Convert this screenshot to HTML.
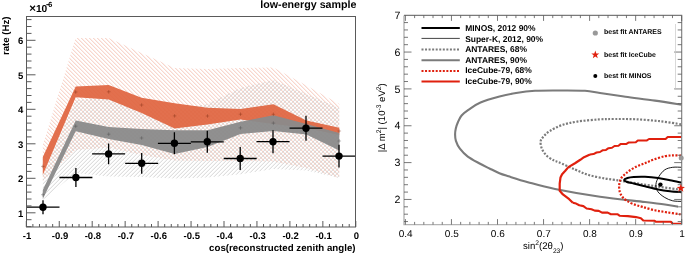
<!DOCTYPE html>
<html><head><meta charset="utf-8"><style>
html,body{margin:0;padding:0;background:#fff;width:685px;height:253px;overflow:hidden}
svg{display:block} text{text-rendering:geometricPrecision}
</style></head><body><div style="will-change:transform;width:685px;height:253px">
<svg width="685" height="253" viewBox="0 0 685 253">
<defs>
<pattern id="hr" patternUnits="userSpaceOnUse" x="3.3" y="0" width="4" height="4">
<path d="M-1,-1 L5,5 M-1,3 L1,5 M3,-1 L5,1" stroke="#eea28e" stroke-width="0.62"/>
</pattern>
<pattern id="hg" patternUnits="userSpaceOnUse" x="2.75" y="0" width="4" height="4">
<path d="M-1,5 L5,-1 M-1,1 L1,-1 M3,5 L5,3" stroke="#bcbcbc" stroke-width="0.65"/>
</pattern>
<clipPath id="cl"><rect x="26.5" y="16.5" width="329" height="210.5"/></clipPath>
<clipPath id="cr"><rect x="404" y="15.4" width="277.7" height="209.2"/></clipPath>
</defs>
<rect width="685" height="253" fill="#fff"/>
<g clip-path="url(#cl)"><path d="M42.8,145.0 L75.7,38.0 L108.7,38.0 L141.6,53.0 L174.6,68.0 L207.5,69.0 L240.5,68.0 L273.4,67.5 L306.4,85.5 L339.3,104.0 L339.3,178.0 L306.4,168.0 L273.4,161.5 L240.5,161.0 L207.5,161.0 L174.6,160.5 L141.6,155.0 L108.7,147.5 L75.7,150.0 L42.8,181.0 Z" fill="url(#hr)"/><path d="M42.8,175.0 L75.7,100.0 L108.7,98.0 L141.6,110.0 L174.6,110.0 L207.5,104.0 L240.5,88.0 L273.4,80.0 L306.4,94.0 L339.3,108.0 L339.3,178.0 L306.4,170.5 L273.4,169.0 L240.5,174.3 L207.5,177.5 L174.6,178.5 L141.6,177.0 L108.7,176.5 L75.7,173.0 L42.8,200.0 Z" fill="url(#hg)"/><path d="M42.8,157.0 L75.7,86.5 L108.7,85.0 L141.6,97.8 L174.6,103.2 L207.5,107.8 L240.5,108.9 L273.4,104.2 L306.4,120.5 L339.3,127.7 L339.3,135.0 L306.4,128.0 L273.4,124.0 L240.5,119.5 L207.5,124.4 L174.6,128.5 L141.6,113.0 L108.7,99.5 L75.7,97.3 L42.8,175.0 Z" fill="#e0643f" fill-opacity="0.92"/><path d="M42.8,190.0 L75.7,120.6 L108.7,127.0 L141.6,128.9 L174.6,130.3 L207.5,130.3 L240.5,121.7 L273.4,115.3 L306.4,124.0 L339.3,132.9 L339.3,150.5 L306.4,134.5 L273.4,131.0 L240.5,134.0 L207.5,147.0 L174.6,154.0 L141.6,145.0 L108.7,139.0 L75.7,131.3 L42.8,199.0 Z" fill="#8a8a8a" fill-opacity="0.95"/><path d="M41.0,166.4 H44.6 M42.8,164.6 V168.20000000000002" stroke="#7a2a10" stroke-width="0.5" fill="none" opacity="0.7"/><path d="M41.0,194.7 H44.6 M42.8,192.89999999999998 V196.5" stroke="#444" stroke-width="0.5" fill="none" opacity="0.7"/><path d="M73.9,92 H77.5 M75.7,90.2 V93.8" stroke="#7a2a10" stroke-width="0.5" fill="none" opacity="0.7"/><path d="M73.9,126.2 H77.5 M75.7,124.4 V128.0" stroke="#444" stroke-width="0.5" fill="none" opacity="0.7"/><path d="M106.9,91.8 H110.5 M108.7,90.0 V93.6" stroke="#7a2a10" stroke-width="0.5" fill="none" opacity="0.7"/><path d="M106.9,134.2 H110.5 M108.7,132.39999999999998 V136.0" stroke="#444" stroke-width="0.5" fill="none" opacity="0.7"/><path d="M139.8,105 H143.4 M141.6,103.2 V106.8" stroke="#7a2a10" stroke-width="0.5" fill="none" opacity="0.7"/><path d="M139.8,138 H143.4 M141.6,136.2 V139.8" stroke="#444" stroke-width="0.5" fill="none" opacity="0.7"/><path d="M172.8,115.9 H176.4 M174.6,114.10000000000001 V117.7" stroke="#7a2a10" stroke-width="0.5" fill="none" opacity="0.7"/><path d="M172.8,142 H176.4 M174.6,140.2 V143.8" stroke="#444" stroke-width="0.5" fill="none" opacity="0.7"/><path d="M205.7,116 H209.3 M207.5,114.2 V117.8" stroke="#7a2a10" stroke-width="0.5" fill="none" opacity="0.7"/><path d="M205.7,138 H209.3 M207.5,136.2 V139.8" stroke="#444" stroke-width="0.5" fill="none" opacity="0.7"/><path d="M238.7,114.2 H242.3 M240.5,112.4 V116.0" stroke="#7a2a10" stroke-width="0.5" fill="none" opacity="0.7"/><path d="M238.7,127.9 H242.3 M240.5,126.10000000000001 V129.70000000000002" stroke="#444" stroke-width="0.5" fill="none" opacity="0.7"/><path d="M271.6,114.3 H275.2 M273.4,112.5 V116.1" stroke="#7a2a10" stroke-width="0.5" fill="none" opacity="0.7"/><path d="M271.6,123.1 H275.2 M273.4,121.3 V124.89999999999999" stroke="#444" stroke-width="0.5" fill="none" opacity="0.7"/><path d="M304.6,124 H308.2 M306.4,122.2 V125.8" stroke="#7a2a10" stroke-width="0.5" fill="none" opacity="0.7"/><path d="M304.6,129 H308.2 M306.4,127.2 V130.8" stroke="#444" stroke-width="0.5" fill="none" opacity="0.7"/><path d="M337.5,131 H341.1 M339.3,129.2 V132.8" stroke="#7a2a10" stroke-width="0.5" fill="none" opacity="0.7"/><path d="M337.5,141 H341.1 M339.3,139.2 V142.8" stroke="#444" stroke-width="0.5" fill="none" opacity="0.7"/><path d="M26.5,207.2 H59.5 M43,200.2 V214.2" stroke="#000" stroke-width="1.3" fill="none"/><circle cx="43" cy="207.2" r="3.7" fill="#000"/><path d="M59.4,177.5 H92.4 M75.9,168.0 V187.0" stroke="#000" stroke-width="1.3" fill="none"/><circle cx="75.9" cy="177.5" r="3.7" fill="#000"/><path d="M92.1,153.9 H125.1 M108.6,143.6 V164.20000000000002" stroke="#000" stroke-width="1.3" fill="none"/><circle cx="108.6" cy="153.9" r="3.7" fill="#000"/><path d="M125.2,163.3 H158.2 M141.7,152.9 V173.70000000000002" stroke="#000" stroke-width="1.3" fill="none"/><circle cx="141.7" cy="163.3" r="3.7" fill="#000"/><path d="M157.9,143.3 H190.9 M174.4,132.3 V154.3" stroke="#000" stroke-width="1.3" fill="none"/><circle cx="174.4" cy="143.3" r="3.7" fill="#000"/><path d="M190.8,141.8 H223.8 M207.3,130.8 V152.8" stroke="#000" stroke-width="1.3" fill="none"/><circle cx="207.3" cy="141.8" r="3.7" fill="#000"/><path d="M223.7,158.5 H256.7 M240.2,147.0 V170.0" stroke="#000" stroke-width="1.3" fill="none"/><circle cx="240.2" cy="158.5" r="3.7" fill="#000"/><path d="M256.5,141.7 H289.5 M273,130.2 V153.2" stroke="#000" stroke-width="1.3" fill="none"/><circle cx="273" cy="141.7" r="3.7" fill="#000"/><path d="M289.5,128.2 H322.5 M306,115.69999999999999 V140.7" stroke="#000" stroke-width="1.3" fill="none"/><circle cx="306" cy="128.2" r="3.7" fill="#000"/><path d="M322.5,156.1 H355.5 M339,144.79999999999998 V167.4" stroke="#000" stroke-width="1.3" fill="none"/><circle cx="339" cy="156.1" r="3.7" fill="#000"/></g><rect x="26.5" y="16.5" width="329" height="210.5" fill="none" stroke="#5a5a5a" stroke-width="1"/><path d="M26.30,227 V221 M32.89,227 V224 M39.48,227 V224 M46.07,227 V224 M52.66,227 V224 M59.25,227 V221 M65.84,227 V224 M72.43,227 V224 M79.02,227 V224 M85.61,227 V224 M92.20,227 V221 M98.79,227 V224 M105.38,227 V224 M111.97,227 V224 M118.56,227 V224 M125.15,227 V221 M131.74,227 V224 M138.33,227 V224 M144.92,227 V224 M151.51,227 V224 M158.10,227 V221 M164.69,227 V224 M171.28,227 V224 M177.87,227 V224 M184.46,227 V224 M191.05,227 V221 M197.64,227 V224 M204.23,227 V224 M210.82,227 V224 M217.41,227 V224 M224.00,227 V221 M230.59,227 V224 M237.18,227 V224 M243.77,227 V224 M250.36,227 V224 M256.95,227 V221 M263.54,227 V224 M270.13,227 V224 M276.72,227 V224 M283.31,227 V224 M289.90,227 V221 M296.49,227 V224 M303.08,227 V224 M309.67,227 V224 M316.26,227 V224 M322.85,227 V221 M329.44,227 V224 M336.03,227 V224 M342.62,227 V224 M349.21,227 V224 M355.80,227 V221 M26.5,226.60 H31.5 M26.5,219.70 H31.5 M26.5,212.80 H35.5 M26.5,205.90 H31.5 M26.5,199.00 H31.5 M26.5,192.10 H31.5 M26.5,185.20 H31.5 M26.5,178.30 H35.5 M26.5,171.40 H31.5 M26.5,164.50 H31.5 M26.5,157.60 H31.5 M26.5,150.70 H31.5 M26.5,143.80 H35.5 M26.5,136.90 H31.5 M26.5,130.00 H31.5 M26.5,123.10 H31.5 M26.5,116.20 H31.5 M26.5,109.30 H35.5 M26.5,102.40 H31.5 M26.5,95.50 H31.5 M26.5,88.60 H31.5 M26.5,81.70 H31.5 M26.5,74.80 H35.5 M26.5,67.90 H31.5 M26.5,61.00 H31.5 M26.5,54.10 H31.5 M26.5,47.20 H31.5 M26.5,40.30 H35.5 M26.5,33.40 H31.5 M26.5,26.50 H31.5 M26.5,19.60 H31.5" stroke="#5a5a5a" stroke-width="1" fill="none"/><text x="23.3" y="216.8" font-family='"Liberation Sans", sans-serif' font-weight="bold" font-size="9.5" text-anchor="end">1</text><text x="23.3" y="182.3" font-family='"Liberation Sans", sans-serif' font-weight="bold" font-size="9.5" text-anchor="end">2</text><text x="23.3" y="147.8" font-family='"Liberation Sans", sans-serif' font-weight="bold" font-size="9.5" text-anchor="end">3</text><text x="23.3" y="113.3" font-family='"Liberation Sans", sans-serif' font-weight="bold" font-size="9.5" text-anchor="end">4</text><text x="23.3" y="78.8" font-family='"Liberation Sans", sans-serif' font-weight="bold" font-size="9.5" text-anchor="end">5</text><text x="23.3" y="44.3" font-family='"Liberation Sans", sans-serif' font-weight="bold" font-size="9.5" text-anchor="end">6</text><text x="27.0" y="238.8" font-family='"Liberation Sans", sans-serif' font-weight="bold" font-size="9.5" text-anchor="middle">-1</text><text x="60.0" y="238.8" font-family='"Liberation Sans", sans-serif' font-weight="bold" font-size="9.5" text-anchor="middle">-0.9</text><text x="92.9" y="238.8" font-family='"Liberation Sans", sans-serif' font-weight="bold" font-size="9.5" text-anchor="middle">-0.8</text><text x="125.9" y="238.8" font-family='"Liberation Sans", sans-serif' font-weight="bold" font-size="9.5" text-anchor="middle">-0.7</text><text x="158.8" y="238.8" font-family='"Liberation Sans", sans-serif' font-weight="bold" font-size="9.5" text-anchor="middle">-0.6</text><text x="191.8" y="238.8" font-family='"Liberation Sans", sans-serif' font-weight="bold" font-size="9.5" text-anchor="middle">-0.5</text><text x="224.7" y="238.8" font-family='"Liberation Sans", sans-serif' font-weight="bold" font-size="9.5" text-anchor="middle">-0.4</text><text x="257.7" y="238.8" font-family='"Liberation Sans", sans-serif' font-weight="bold" font-size="9.5" text-anchor="middle">-0.3</text><text x="290.6" y="238.8" font-family='"Liberation Sans", sans-serif' font-weight="bold" font-size="9.5" text-anchor="middle">-0.2</text><text x="323.6" y="238.8" font-family='"Liberation Sans", sans-serif' font-weight="bold" font-size="9.5" text-anchor="middle">-0.1</text><text x="356.5" y="238.8" font-family='"Liberation Sans", sans-serif' font-weight="bold" font-size="9.5" text-anchor="middle">0</text><text x="355.5" y="250.5" font-family='"Liberation Sans", sans-serif' font-weight="bold" font-size="9.7" text-anchor="end">cos(reconstructed zenith angle)</text><text x="356.5" y="7.9" font-family='"Liberation Sans", sans-serif' font-weight="bold" font-size="10.7" text-anchor="end">low-energy sample</text><text transform="translate(9.3,55) rotate(-90)" font-family='"Liberation Sans", sans-serif' font-weight="bold" font-size="9.6">rate (Hz)</text><text x="29.2" y="12" font-family='"Liberation Sans", sans-serif' font-weight="bold" font-size="10.2"><tspan font-size="11.5">×</tspan>10</text><rect x="46.3" y="4.1" width="2.7" height="1.1" fill="#111"/><text x="48.3" y="7.1" font-family='"Liberation Sans", sans-serif' font-weight="bold" font-size="7.4">6</text><g clip-path="url(#cr)" fill="none" stroke-linejoin="round"><path d="M682.00,104.80 C677.50,104.10 664.43,101.95 655.00,100.60 C645.57,99.25 634.57,97.97 625.40,96.70 C616.23,95.43 606.73,93.98 600.00,93.00 C593.27,92.02 591.67,91.22 585.00,90.80 C578.33,90.38 568.33,90.50 560.00,90.50 C551.67,90.50 542.32,90.38 535.00,90.80 C527.68,91.22 522.02,92.03 516.10,93.00 C510.18,93.97 505.43,95.02 499.50,96.60 C493.57,98.18 485.63,100.33 480.50,102.50 C475.37,104.67 471.85,107.43 468.70,109.60 C465.55,111.77 463.38,113.43 461.60,115.50 C459.82,117.57 458.97,119.83 458.00,122.00 C457.03,124.17 456.28,126.42 455.80,128.50 C455.32,130.58 455.08,132.45 455.10,134.50 C455.12,136.55 455.10,138.43 455.90,140.80 C456.70,143.17 457.92,146.07 459.90,148.70 C461.88,151.33 464.52,154.13 467.80,156.60 C471.08,159.07 475.98,161.52 479.60,163.50 C483.22,165.48 486.20,166.88 489.50,168.50 C492.80,170.12 496.23,171.90 499.40,173.20 C502.57,174.50 503.75,174.80 508.50,176.30 C513.25,177.80 520.15,180.08 527.90,182.20 C535.65,184.32 542.98,186.57 555.00,189.00 C567.02,191.43 585.00,194.63 600.00,196.80 C615.00,198.97 634.17,200.72 645.00,202.00 C655.83,203.28 659.50,203.73 665.00,204.50 C670.50,205.27 675.83,206.25 678.00,206.60" stroke="#7b7b7b" stroke-width="2.1"/><path d="M681.00,124.30 C677.50,123.78 667.50,122.03 660.00,121.20 C652.50,120.37 643.50,119.67 636.00,119.30 C628.50,118.93 621.17,118.98 615.00,119.00 C608.83,119.02 605.30,118.97 599.00,119.40 C592.70,119.83 583.42,120.63 577.20,121.60 C570.98,122.57 566.25,123.63 561.70,125.20 C557.15,126.77 552.93,129.12 549.90,131.00 C546.87,132.88 545.05,134.75 543.50,136.50 C541.95,138.25 540.85,139.42 540.60,141.50 C540.35,143.58 540.93,146.58 542.00,149.00 C543.07,151.42 544.98,154.08 547.00,156.00 C549.02,157.92 552.13,159.45 554.10,160.50 C556.07,161.55 555.32,160.80 558.80,162.30 C562.28,163.80 570.00,167.38 575.00,169.50 C580.00,171.62 583.80,173.50 588.80,175.00 C593.80,176.50 600.13,177.62 605.00,178.50 C609.87,179.38 614.80,179.83 618.00,180.30 C621.20,180.77 620.53,180.70 624.20,181.30 C627.87,181.90 634.03,182.97 640.00,183.90 C645.97,184.83 653.00,185.92 660.00,186.90 C667.00,187.88 678.33,189.32 682.00,189.80" stroke="#7b7b7b" stroke-width="2.2" stroke-dasharray="2 1.55"/><path d="M681.5,137.0 L667.7,137.0 L665.6,139.0 L649.0,139.0 L646.9,140.4 L637.8,140.4 L635.8,142.2 L628.8,142.4 L626.5,143.9 L620.5,144.1 L618.5,145.7 L614.5,146.0 L612.0,147.8 L608.5,148.2 L606.0,149.9 L602.5,150.3 L600.0,152.0 L596.5,152.5 L593.5,154.1 L590.0,154.6" stroke="#e0200e" stroke-width="2"/><path d="M590.0,154.6 L584.0,157.2 L580.3,159.8 L575.0,163.2 L568.4,167.1 L565.3,170.8 L562.1,174.2 L560.5,177.4 L559.7,183.7 L559.7,190.8 L562.9,194.4 L569.2,199.2 L572.8,202.8" stroke="#e0200e" stroke-width="2.2"/><path d="M572.8,202.8 L576.1,203.6 L579.3,205.3 L583.4,206.1 L586.6,208.5 L591.5,209.3 L594.7,210.6 L598.8,210.9 L602.0,212.6 L607.7,212.6 L610.9,214.2 L617.4,214.2 L619.8,215.8 L627.9,216.1 L636.0,217.1 L640.9,218.2 L643.3,220.5 L654.4,220.7 L656.0,221.8 L670.9,221.8 L672.7,223.8 L681.5,223.8" stroke="#e0200e" stroke-width="2.1"/><path d="M681.00,155.60 C679.70,155.57 675.90,155.30 673.20,155.40 C670.50,155.50 668.03,155.52 664.80,156.20 C661.57,156.88 657.10,158.33 653.80,159.50 C650.50,160.67 648.03,161.95 645.00,163.20 C641.97,164.45 638.60,165.45 635.60,167.00 C632.60,168.55 629.43,170.58 627.00,172.50 C624.57,174.42 622.30,176.42 621.00,178.50 C619.70,180.58 619.40,182.75 619.20,185.00 C619.00,187.25 619.25,190.00 619.80,192.00 C620.35,194.00 621.42,195.60 622.50,197.00 C623.58,198.40 624.55,199.23 626.30,200.40 C628.05,201.57 630.30,202.92 633.00,204.00 C635.70,205.08 638.83,205.85 642.50,206.90 C646.17,207.95 650.92,209.40 655.00,210.30 C659.08,211.20 662.75,211.62 667.00,212.30 C671.25,212.98 678.25,214.05 680.50,214.40" stroke="#e0200e" stroke-width="2.2" stroke-dasharray="2 1.55"/><path d="M681.60,167.30 C680.12,167.30 675.50,166.88 672.70,167.30 C669.90,167.72 667.12,168.23 664.80,169.80 C662.48,171.37 660.28,174.23 658.80,176.70 C657.32,179.17 656.07,182.12 655.90,184.60 C655.73,187.08 656.32,189.45 657.80,191.60 C659.28,193.75 662.32,195.97 664.80,197.50 C667.28,199.03 669.90,200.15 672.70,200.80 C675.50,201.45 680.12,201.30 681.60,201.40" stroke="#000" stroke-width="0.9"/><path d="M682.00,182.80 C680.00,182.37 673.97,181.00 670.00,180.20 C666.03,179.40 662.37,178.57 658.20,178.00 C654.03,177.43 649.08,176.97 645.00,176.80 C640.92,176.63 636.62,176.80 633.70,177.00 C630.78,177.20 629.08,177.50 627.50,178.00 C625.92,178.50 624.28,179.33 624.20,180.00 C624.12,180.67 625.42,181.42 627.00,182.00 C628.58,182.58 630.70,182.78 633.70,183.50 C636.70,184.22 640.92,185.30 645.00,186.30 C649.08,187.30 654.03,188.67 658.20,189.50 C662.37,190.33 666.03,190.83 670.00,191.30 C673.97,191.77 680.00,192.13 682.00,192.30" stroke="#000" stroke-width="2"/></g><path d="M404,15.4 V224.6 H681.7" stroke="#b4b4b4" stroke-width="1.4" fill="none"/><path d="M404,15.4 H681.7 V224.6" stroke="#7a7a7a" stroke-width="1.1" fill="none"/><path d="M405.40,224.6 V219.1 M405.40,15.4 V20.9 M414.61,224.6 V221.9 M414.61,15.4 V18.1 M423.82,224.6 V221.9 M423.82,15.4 V18.1 M433.03,224.6 V221.9 M433.03,15.4 V18.1 M442.24,224.6 V221.9 M442.24,15.4 V18.1 M451.45,224.6 V219.1 M451.45,15.4 V20.9 M460.66,224.6 V221.9 M460.66,15.4 V18.1 M469.87,224.6 V221.9 M469.87,15.4 V18.1 M479.08,224.6 V221.9 M479.08,15.4 V18.1 M488.29,224.6 V221.9 M488.29,15.4 V18.1 M497.50,224.6 V219.1 M497.50,15.4 V20.9 M506.71,224.6 V221.9 M506.71,15.4 V18.1 M515.92,224.6 V221.9 M515.92,15.4 V18.1 M525.13,224.6 V221.9 M525.13,15.4 V18.1 M534.34,224.6 V221.9 M534.34,15.4 V18.1 M543.55,224.6 V219.1 M543.55,15.4 V20.9 M552.76,224.6 V221.9 M552.76,15.4 V18.1 M561.97,224.6 V221.9 M561.97,15.4 V18.1 M571.18,224.6 V221.9 M571.18,15.4 V18.1 M580.39,224.6 V221.9 M580.39,15.4 V18.1 M589.60,224.6 V219.1 M589.60,15.4 V20.9 M598.81,224.6 V221.9 M598.81,15.4 V18.1 M608.02,224.6 V221.9 M608.02,15.4 V18.1 M617.23,224.6 V221.9 M617.23,15.4 V18.1 M626.44,224.6 V221.9 M626.44,15.4 V18.1 M635.65,224.6 V219.1 M635.65,15.4 V20.9 M644.86,224.6 V221.9 M644.86,15.4 V18.1 M654.07,224.6 V221.9 M654.07,15.4 V18.1 M663.28,224.6 V221.9 M663.28,15.4 V18.1 M672.49,224.6 V221.9 M672.49,15.4 V18.1 M681.70,224.6 V219.1 M681.70,15.4 V20.9 M404,221.56 H408 M681.7,221.56 H677.7 M404,214.19 H408 M681.7,214.19 H677.7 M404,206.82 H408 M681.7,206.82 H677.7 M404,199.45 H411.5 M681.7,199.45 H674.2 M404,192.08 H408 M681.7,192.08 H677.7 M404,184.71 H408 M681.7,184.71 H677.7 M404,177.34 H408 M681.7,177.34 H677.7 M404,169.97 H408 M681.7,169.97 H677.7 M404,162.60 H411.5 M681.7,162.60 H674.2 M404,155.23 H408 M681.7,155.23 H677.7 M404,147.86 H408 M681.7,147.86 H677.7 M404,140.49 H408 M681.7,140.49 H677.7 M404,133.12 H408 M681.7,133.12 H677.7 M404,125.75 H411.5 M681.7,125.75 H674.2 M404,118.38 H408 M681.7,118.38 H677.7 M404,111.01 H408 M681.7,111.01 H677.7 M404,103.64 H408 M681.7,103.64 H677.7 M404,96.27 H408 M681.7,96.27 H677.7 M404,88.90 H411.5 M681.7,88.90 H674.2 M404,81.53 H408 M681.7,81.53 H677.7 M404,74.16 H408 M681.7,74.16 H677.7 M404,66.79 H408 M681.7,66.79 H677.7 M404,59.42 H408 M681.7,59.42 H677.7 M404,52.05 H411.5 M681.7,52.05 H674.2 M404,44.68 H408 M681.7,44.68 H677.7 M404,37.31 H408 M681.7,37.31 H677.7 M404,29.94 H408 M681.7,29.94 H677.7 M404,22.57 H408 M681.7,22.57 H677.7" stroke="#555" stroke-width="0.8" fill="none"/><circle cx="681.2" cy="158" r="2.5" fill="#999"/><path d="M680.80,183.90 L681.86,186.84 L684.98,186.94 L682.51,188.86 L683.39,191.86 L680.80,190.10 L678.21,191.86 L679.09,188.86 L676.62,186.94 L679.74,186.84 Z" fill="#e0200e"/><circle cx="660.4" cy="184.6" r="2.2" fill="#000"/><path d="M675.5,24 V88.8 H681" stroke="#c8c8c8" stroke-width="0.7" fill="none"/><path d="M421.5,28.1 H459.8" stroke="#000" stroke-width="2"/><path d="M421.5,38.4 H459.8" stroke="#444" stroke-width="1"/><path d="M421.5,49.5 H459.8" stroke="#7b7b7b" stroke-width="2.2" stroke-dasharray="2 1.55"/><path d="M421.5,60.2 H459.8" stroke="#7b7b7b" stroke-width="2"/><path d="M421.5,71 H459.8" stroke="#e0200e" stroke-width="2.2" stroke-dasharray="2 1.55"/><path d="M421.5,81.5 H459.8" stroke="#e0200e" stroke-width="2"/><text x="465.2" y="31.1" font-family='"Liberation Sans", sans-serif' font-weight="bold" font-size="8.45">MINOS, 2012 90%</text><text x="465.2" y="41.5" font-family='"Liberation Sans", sans-serif' font-weight="bold" font-size="8.45">Super-K, 2012, 90%</text><text x="465.2" y="51.8" font-family='"Liberation Sans", sans-serif' font-weight="bold" font-size="8.45">ANTARES, 68%</text><text x="465.2" y="62.7" font-family='"Liberation Sans", sans-serif' font-weight="bold" font-size="8.45">ANTARES, 90%</text><text x="465.2" y="73.4" font-family='"Liberation Sans", sans-serif' font-weight="bold" font-size="8.45">IceCube-79, 68%</text><text x="465.2" y="84" font-family='"Liberation Sans", sans-serif' font-weight="bold" font-size="8.45">IceCube-79, 90%</text><circle cx="595.3" cy="33" r="2.6" fill="#999"/><path d="M595.30,50.60 L596.30,53.42 L599.29,53.50 L596.92,55.33 L597.77,58.20 L595.30,56.50 L592.83,58.20 L593.68,55.33 L591.31,53.50 L594.30,53.42 Z" fill="#e0200e"/><circle cx="595.3" cy="76" r="2" fill="#000"/><text x="604.1" y="34.2" font-family='"Liberation Sans", sans-serif' font-weight="bold" font-size="6.95">best fit ANTARES</text><text x="604.1" y="56.7" font-family='"Liberation Sans", sans-serif' font-weight="bold" font-size="6.95">best fit IceCube</text><text x="604.1" y="77.5" font-family='"Liberation Sans", sans-serif' font-weight="bold" font-size="6.95">best fit MINOS</text><text x="400.3" y="203.0" font-family='"Liberation Sans", sans-serif' font-size="10.6" text-anchor="end">2</text><text x="400.3" y="166.2" font-family='"Liberation Sans", sans-serif' font-size="10.6" text-anchor="end">3</text><text x="400.3" y="129.4" font-family='"Liberation Sans", sans-serif' font-size="10.6" text-anchor="end">4</text><text x="400.3" y="92.5" font-family='"Liberation Sans", sans-serif' font-size="10.6" text-anchor="end">5</text><text x="400.3" y="55.6" font-family='"Liberation Sans", sans-serif' font-size="10.6" text-anchor="end">6</text><text x="400.3" y="18.8" font-family='"Liberation Sans", sans-serif' font-size="10.6" text-anchor="end">7</text><text x="405.7" y="237.3" font-family='"Liberation Sans", sans-serif' font-size="10" text-anchor="middle">0.4</text><text x="451.8" y="237.3" font-family='"Liberation Sans", sans-serif' font-size="10" text-anchor="middle">0.5</text><text x="497.8" y="237.3" font-family='"Liberation Sans", sans-serif' font-size="10" text-anchor="middle">0.6</text><text x="543.8" y="237.3" font-family='"Liberation Sans", sans-serif' font-size="10" text-anchor="middle">0.7</text><text x="589.9" y="237.3" font-family='"Liberation Sans", sans-serif' font-size="10" text-anchor="middle">0.8</text><text x="635.9" y="237.3" font-family='"Liberation Sans", sans-serif' font-size="10" text-anchor="middle">0.9</text><text x="682.0" y="237.3" font-family='"Liberation Sans", sans-serif' font-size="10" text-anchor="middle">1</text><text x="523" y="248.8" font-family='"Liberation Sans", sans-serif' font-size="9.6">sin<tspan dy="-4" font-size="6.7">2</tspan><tspan dy="4">(2θ</tspan><tspan dy="4.3" font-size="6.7">23</tspan><tspan dy="-4.3">)</tspan></text><text transform="translate(385.4,152.3) rotate(-90)" font-family='"Liberation Sans", sans-serif' font-size="9.6">|Δ m<tspan dy="-4" font-size="6.7">2</tspan><tspan dy="4">| (10</tspan><tspan dy="-4" font-size="6.7">-3</tspan><tspan dy="4"> eV</tspan><tspan dy="-4" font-size="6.7">2</tspan><tspan dy="4">)</tspan></text></svg>
</div></body></html>
